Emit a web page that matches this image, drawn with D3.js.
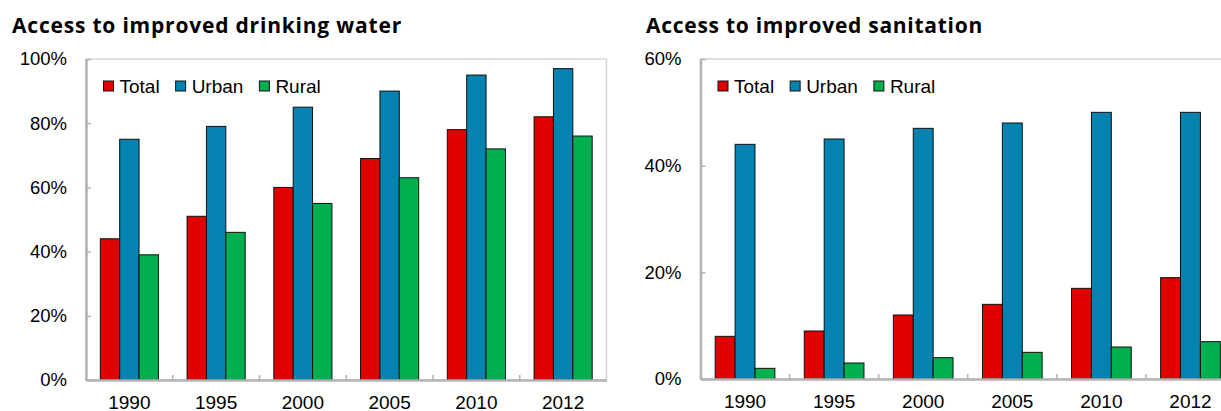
<!DOCTYPE html>
<html lang="en">
<head>
    <meta charset="UTF-8">
    <title>Access to improved drinking water and sanitation</title>
    <script src="https://d3js.org/d3.v7.min.js"></script>
    <style>
        body {
            margin: 0;
            padding: 0;
            background: #fff;
            overflow: hidden;
        }
        svg {
            display: block;
            font-family: "Liberation Sans", Arial, sans-serif;
        }
        .title {
            font-family: "Open Sans", "DejaVu Sans", sans-serif;
            font-weight: bold;
            font-size: 19px;
            fill: #000;
        }
        .tick-label {
            font-size: 18.5px;
            fill: #000;
        }
        .x-label, .legend-label {
            font-size: 19px;
            fill: #000;
        }
    </style>
</head>
<body>
    <svg id="chart" width="1221" height="411"></svg>

    <script>
        // chart data
        const years = ["1990", "1995", "2000", "2005", "2010", "2012"];
        const seriesNames = ["Total", "Urban", "Rural"];
        const seriesColors = ["#e00000", "#0583b0", "#00b04f"];

        const waterTotal = [44, 51, 60, 69, 78, 82];
        const waterUrban = [75, 79, 85, 90, 95, 97];
        const waterRural = [39, 46, 55, 63, 72, 76];

        const sanitationTotal = [8, 9, 12, 14, 17, 19];
        const sanitationUrban = [44, 45, 47, 48, 50, 50];
        const sanitationRural = [2, 3, 4, 5, 6, 7];

        const waterTicks = [0, 20, 40, 60, 80, 100];
        const sanitationTicks = [0, 20, 40, 60];

        const svg = d3.select("#chart");

        // draws one clustered bar panel
        function drawPanel(opts) {
            const { title, titleX, titleWidth, left, right, top, bottom, yMax, ticks, series } = opts;
            const g = svg.append("g");

            const x = d3.scaleBand()
                .domain(years)
                .range([left, right])
                .paddingInner(0)
                .paddingOuter(0);

            const groupFrac = 0.67;
            const bw = x.bandwidth();
            const xs = d3.scaleBand()
                .domain(seriesNames)
                .range([bw * (1 - groupFrac) / 2, bw * (1 + groupFrac) / 2])
                .padding(0);

            const y = d3.scaleLinear()
                .domain([0, yMax])
                .range([bottom, top]);

            // title, sized so it spans about the same width as the original
            const tt = g.append("text")
                .attr("class", "title")
                .attr("x", titleX)
                .attr("y", 32.5)
                .text(title);
            const tw = tt.node().getComputedTextLength();
            const fs = Math.min(21, 19 * titleWidth / tw);
            tt.style("font-size", fs + "px");
            const tw2 = tt.node().getComputedTextLength();
            tt.style("letter-spacing", ((titleWidth - tw2) / title.length) + "px");

            // plot area border
            g.append("rect")
                .attr("x", left)
                .attr("y", top)
                .attr("width", right - left)
                .attr("height", bottom - top)
                .attr("fill", "none")
                .attr("stroke", "#d6d6d6")
                .attr("stroke-width", 1.5);

            // bars
            const rows = years.map((yr, i) => seriesNames.map((s, j) => ({
                year: yr, name: s, value: series[j][i], color: seriesColors[j]
            })));

            g.selectAll(".year-group")
                .data(rows)
                .join("g")
                .attr("class", "year-group")
                .attr("transform", (d, i) => `translate(${x(years[i])},0)`)
                .selectAll("rect")
                .data(d => d)
                .join("rect")
                .attr("x", d => xs(d.name))
                .attr("y", d => y(d.value))
                .attr("width", xs.bandwidth())
                .attr("height", d => y(0) - y(d.value))
                .attr("fill", d => d.color)
                .attr("stroke", "#111")
                .attr("stroke-width", 1);

            // y axis
            const yAxis = d3.axisLeft(y)
                .tickValues(ticks)
                .tickSizeInner(-5)
                .tickSizeOuter(0)
                .tickPadding(19)
                .tickFormat(d => d + "%");

            const ya = g.append("g")
                .attr("transform", `translate(${left},0)`)
                .call(yAxis);
            ya.select(".domain").attr("stroke", "#b3b3b3").attr("stroke-width", 2.5);
            ya.selectAll(".tick line").attr("stroke", "#b3b3b3").attr("stroke-width", 1.5);
            ya.selectAll(".tick text")
                .attr("class", "tick-label")
                .attr("font-family", null)
                .attr("font-size", null);

            // x axis: category labels centered, ticks between categories
            const xAxis = d3.axisBottom(x)
                .tickSize(0)
                .tickPadding(16)
                .tickSizeOuter(0);

            const xa = g.append("g")
                .attr("transform", `translate(0,${bottom})`)
                .call(xAxis);
            xa.select(".domain").attr("stroke", "#b3b3b3").attr("stroke-width", 2.5);
            xa.selectAll(".tick text")
                .attr("class", "x-label")
                .attr("font-family", null)
                .attr("font-size", null);

            g.selectAll(".x-divider")
                .data(years.slice(1))
                .join("line")
                .attr("class", "x-divider")
                .attr("x1", d => x(d))
                .attr("x2", d => x(d))
                .attr("y1", bottom)
                .attr("y2", bottom - 5)
                .attr("stroke", "#b3b3b3")
                .attr("stroke-width", 1.5);

            // legend
            const legend = g.append("g")
                .attr("transform", `translate(${left + 17.5},0)`);
            let lx = 0;
            seriesNames.forEach((name, j) => {
                legend.append("rect")
                    .attr("x", lx)
                    .attr("y", 81)
                    .attr("width", 10)
                    .attr("height", 10)
                    .attr("fill", seriesColors[j])
                    .attr("stroke", "#111")
                    .attr("stroke-width", 1);
                const t = legend.append("text")
                    .attr("class", "legend-label")
                    .attr("x", lx + 16)
                    .attr("y", 93)
                    .text(name);
                lx += 16 + t.node().getComputedTextLength() + 16;
            });
        }

        drawPanel({
            title: "Access to improved drinking water",
            titleX: 12, titleWidth: 390,
            left: 86, right: 606.5, top: 59, bottom: 380,
            yMax: 100,
            ticks: waterTicks,
            series: [waterTotal, waterUrban, waterRural]
        });

        drawPanel({
            title: "Access to improved sanitation",
            titleX: 646, titleWidth: 337,
            left: 700.5, right: 1235, top: 59, bottom: 379,
            yMax: 60,
            ticks: sanitationTicks,
            series: [sanitationTotal, sanitationUrban, sanitationRural]
        });
    </script>
</body>
</html>
